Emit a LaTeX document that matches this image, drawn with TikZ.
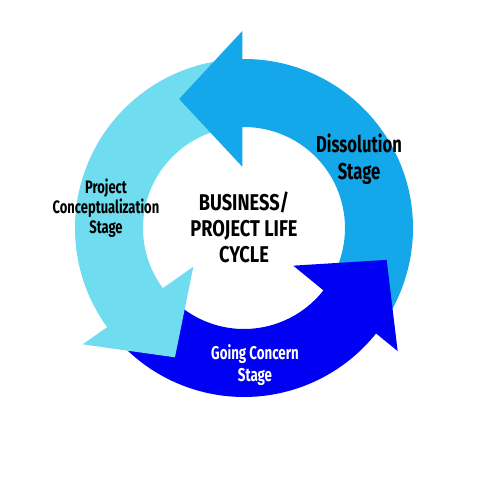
\documentclass[tikz,border=0pt]{standalone}
\usepackage{fontspec}
\setmainfont{Fira Sans}[FakeStretch=0.72]
\newfontfamily\hubfont{Fira Sans}[FakeStretch=0.8]
\definecolor{stagelight}{HTML}{70DCF0}
\definecolor{stagemid}{HTML}{14A8EA}
\definecolor{stagedark}{HTML}{0000F5}
\begin{document}
\begin{tikzpicture}[x=1pt, y=1pt,
  stagetext/.style={align=center, font=\bfseries\fontsize{18}{20}\selectfont}]
\useasboundingbox (-244,-251) rectangle (235,228);
\fill[stagelight] (90:101) arc[start angle=90, end angle=218, radius=101] -- (218:169) arc[start angle=218, end angle=90, radius=169] -- cycle;
\fill[stagedark] (217.5:101) arc[start angle=217.5, end angle=322.5, radius=101] -- (322.5:169) arc[start angle=322.5, end angle=217.5, radius=169] -- cycle;
\fill[stagemid] (-37.5:101) arc[start angle=-37.5, end angle=92, radius=101] -- (92:169) arc[start angle=92, end angle=-37.5, radius=169] -- cycle;
\fill[stagemid] (91.6:61.3) -- (116.7:144.4) -- (90.5:197) -- cycle;
\fill[stagedark] (-37.4:62) -- (-12.6:146.2) -- (-38.7:196.9) -- cycle;
\fill[stagelight] (217.4:63.8) -- (241.9:146.6) -- (215.8:198.9) -- cycle;
\node[align=center, font=\hubfont\bfseries\fontsize{22.8}{26}\selectfont] (a) at (0,1) {BUSINESS/\\PROJECT LIFE\\CYCLE};
\node[stagetext, font=\bfseries\fontsize{23}{27}\selectfont] (b) at (115,68.5) {Dissolution\\Stage};
\node[stagetext] (c) at (-138,20) {Project\\Conceptualization\\Stage};
\node[stagetext, text=white, font=\bfseries\fontsize{18.5}{22}\selectfont] (d) at (11,-137) {Going Concern\\Stage};
\end{tikzpicture}
\end{document}
